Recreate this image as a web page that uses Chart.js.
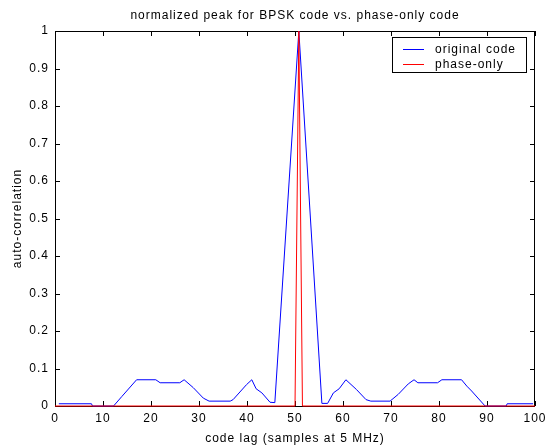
<!DOCTYPE html>
<html>
<head>
<meta charset="utf-8">
<script src="https://cdn.jsdelivr.net/npm/chart.js@4/dist/chart.umd.min.js"></script>
<style>
  html, body { margin: 0; padding: 0; background: #fff; }
  canvas { display: block; }
</style>
</head>
<body>
<canvas id="peakChart" width="551" height="448"></canvas>
<script>
// Values
const xTicks = [0, 10, 20, 30, 40, 50, 60, 70, 80, 90, 100];
const yTicks = [0, 0.1, 0.2, 0.3, 0.4, 0.5, 0.6, 0.7, 0.8, 0.9, 1];

const seriesNames = ['original code', 'phase-only'];
const seriesColors = ['#0000ff', '#ff0000'];

const originalLag = [0.8, 7.6, 7.8, 12.2, 13.9, 17, 21, 21.9, 26, 26.9, 28.8, 30.9, 32.1, 36.5,
  37.1, 39.9, 41, 41.9, 43.1, 44.8, 45.8, 50.8, 55.6, 56.8, 58, 59.2, 60.6, 62.8, 64.8,
  65.8, 69.8, 71.5, 73.6, 74.8, 75.6, 79.7, 80.6, 84.7, 85.8, 86.8, 89.6, 94.0, 94.2, 99.6];
const originalCorr = [0.006, 0.006, 0, 0, 0.025, 0.07, 0.07, 0.062, 0.062, 0.07, 0.049, 0.021, 0.013, 0.013,
  0.017, 0.057, 0.07, 0.046, 0.035, 0.01, 0.009, 1.0, 0.007, 0.007, 0.035, 0.046, 0.07, 0.044, 0.017,
  0.013, 0.013, 0.031, 0.059, 0.07, 0.062, 0.062, 0.07, 0.07, 0.053, 0.04, 0, 0, 0.006, 0.006];

const phaseLag = [0, 50, 50.8, 51.55, 100];
const phaseCorr = [0, 0, 1, 0, 0];

const FONT = '"Liberation Sans", Arial, Helvetica, sans-serif';

function toPoints(xs, ys) {
  return xs.map((x, i) => ({ x: x, y: ys[i] }));
}

// Box with inward ticks, drawn under the lines (matlab style)
const axesBox = {
  id: 'axesBox',
  beforeDraw: function (chart) {
    chart.ctx.letterSpacing = '1px';
  },
  beforeDatasetsDraw: function (chart) {
    const ctx = chart.ctx;
    const a = chart.chartArea;
    const xs = chart.scales.x;
    const ys = chart.scales.y;
    const tl = 5;
    ctx.save();
    ctx.strokeStyle = '#000';
    ctx.lineWidth = 1;
    ctx.strokeRect(a.left + 0.5, a.top + 0.5, a.right - a.left - 1, a.bottom - a.top);
    ctx.beginPath();
    xTicks.forEach(function (v) {
      const px = Math.round(xs.getPixelForValue(v)) + 0.5;
      ctx.moveTo(px, a.bottom);
      ctx.lineTo(px, a.bottom - tl);
      ctx.moveTo(px, a.top);
      ctx.lineTo(px, a.top + tl);
    });
    yTicks.forEach(function (v) {
      const py = Math.round(ys.getPixelForValue(v)) + 0.5;
      ctx.moveTo(a.left, py);
      ctx.lineTo(a.left + tl, py);
      ctx.moveTo(a.right, py);
      ctx.lineTo(a.right - tl, py);
    });
    ctx.stroke();
    ctx.restore();
  },
  afterDraw: function (chart) {
    const ctx = chart.ctx;
    const a = chart.chartArea;
    const cx = (a.left + a.right) / 2;
    ctx.save();
    ctx.letterSpacing = '1px';
    ctx.fillStyle = '#000';
    ctx.font = '12px ' + FONT;
    ctx.textAlign = 'center';
    ctx.textBaseline = 'alphabetic';
    ctx.fillText('normalized peak for BPSK code vs. phase-only code', cx, 19);
    ctx.fillText('code lag (samples at 5 MHz)', cx, 442);
    ctx.save();
    ctx.translate(18, (a.top + a.bottom) / 2);
    ctx.rotate(-Math.PI / 2);
    ctx.textBaseline = 'middle';
    ctx.fillText('auto-correlation', 0, 0);
    ctx.restore();

    // legend
    const lx = 392.5, ly = 37.5, lw = 134, lh = 35;
    ctx.fillStyle = '#fff';
    ctx.fillRect(lx, ly, lw, lh);
    ctx.strokeStyle = '#000';
    ctx.lineWidth = 1;
    ctx.strokeRect(lx, ly, lw, lh);
    ctx.textAlign = 'left';
    ctx.textBaseline = 'middle';
    seriesNames.forEach(function (name, i) {
      const y = 49.5 + i * 15;
      ctx.strokeStyle = seriesColors[i];
      ctx.beginPath();
      ctx.moveTo(403, y);
      ctx.lineTo(424, y);
      ctx.stroke();
      ctx.fillStyle = '#000';
      ctx.fillText(name, 435, y);
    });
    ctx.restore();
  }
};

new Chart(document.getElementById('peakChart'), {
  type: 'line',
  data: {
    datasets: [
      {
        label: seriesNames[0],
        data: toPoints(originalLag, originalCorr),
        borderColor: seriesColors[0],
        borderWidth: 1,
        pointRadius: 0,
        tension: 0,
        clip: false,
        order: 1
      },
      {
        label: seriesNames[1],
        data: toPoints(phaseLag, phaseCorr),
        borderColor: seriesColors[1],
        borderWidth: 1,
        pointRadius: 0,
        tension: 0,
        clip: false,
        order: 0
      }
    ]
  },
  options: {
    responsive: false,
    animation: false,
    events: [],
    layout: { padding: { left: 0, right: 16, top: 31, bottom: 0 } },
    plugins: {
      legend: { display: false },
      title: { display: false },
      tooltip: { enabled: false }
    },
    scales: {
      x: {
        type: 'linear',
        min: 0,
        max: 100,
        grid: { display: false, drawTicks: false },
        border: { display: false },
        afterFit: function (scale) { scale.height = 42; },
        afterBuildTicks: function (scale) { scale.ticks = xTicks.map(v => ({ value: v })); },
        ticks: {
          color: '#000',
          padding: 5,
          maxRotation: 0,
          font: { family: FONT, size: 12 }
        }
      },
      y: {
        type: 'linear',
        min: 0,
        max: 1,
        grid: { display: false, drawTicks: false },
        border: { display: false },
        afterFit: function (scale) { scale.width = 55; },
        afterBuildTicks: function (scale) { scale.ticks = yTicks.map(v => ({ value: v })); },
        ticks: {
          color: '#000',
          padding: 6,
          font: { family: FONT, size: 12 },
          callback: function (v) { return String(+v.toFixed(1)); }
        }
      }
    }
  },
  plugins: [axesBox]
});
</script>
</body>
</html>
